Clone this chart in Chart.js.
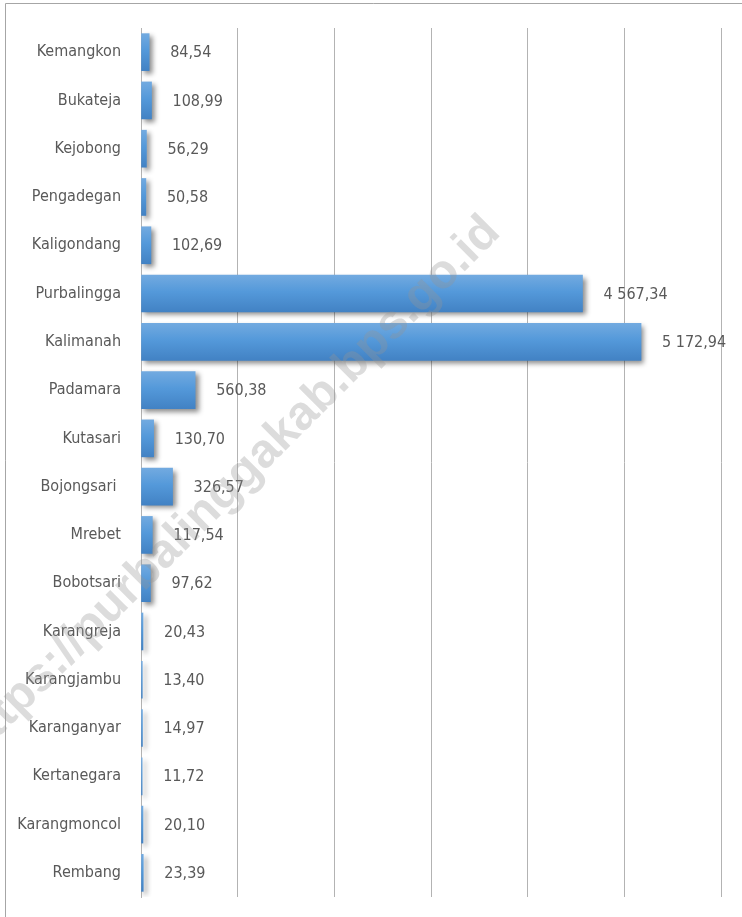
<!DOCTYPE html>
<html>
<head>
<meta charset="utf-8">
<script src="https://cdn.jsdelivr.net/npm/chart.js@4/dist/chart.umd.min.js"></script>
<style>
  html, body { margin: 0; padding: 0; background: #ffffff; }
  #wrap { position: relative; width: 742px; height: 917px; }
</style>
</head>
<body>
<div id="wrap"><canvas id="c" width="742" height="917"></canvas></div>
<script>
const categories = ["Kemangkon","Bukateja","Kejobong","Pengadegan","Kaligondang","Purbalingga","Kalimanah","Padamara","Kutasari","Bojongsari ","Mrebet","Bobotsari","Karangreja","Karangjambu","Karanganyar","Kertanegara","Karangmoncol","Rembang"];
const values = [84.54,108.99,56.29,50.58,102.69,4567.34,5172.94,560.38,130.70,326.57,117.54,97.62,20.43,13.40,14.97,11.72,20.10,23.39];
const xMin = 0, xMax = 6000, xStep = 1000;
const watermark = "https://purbalinggakab.bps.go.id";

const FONT = "'Liberation Sans Narrow', 'DejaVu Sans Condensed', 'Roboto', sans-serif";
const TEXT = "#595959";

function fmt(v) {
  const parts = v.toFixed(2).split(".");
  const intPart = parts[0].replace(/\B(?=(\d{3})+(?!\d))/g, " ");
  return intPart + "," + parts[1];
}

const framePlugin = {
  id: "frame",
  beforeDraw(chart) {
    const ctx = chart.ctx;
    ctx.save();
    ctx.fillStyle = "#ffffff";
    ctx.fillRect(0, 0, chart.width, chart.height);
    ctx.strokeStyle = "#a6a6a6";
    ctx.lineWidth = 1;
    ctx.beginPath();
    ctx.moveTo(5.5, chart.height);
    ctx.lineTo(5.5, 3.5);
    ctx.lineTo(chart.width, 3.5);
    ctx.stroke();
    ctx.restore();
  }
};

const barStylePlugin = {
  id: "barStyle",
  beforeDatasetsDraw(chart) {
    const ctx = chart.ctx;
    const meta = chart.getDatasetMeta(0);
    meta.data.forEach(el => {
      const top = el.y - el.height / 2, bot = el.y + el.height / 2;
      const g = ctx.createLinearGradient(0, top, 0, bot);
      g.addColorStop(0, "#72aae0");
      g.addColorStop(0.45, "#5499da");
      g.addColorStop(1, "#4282c4");
      el.options = Object.assign({}, el.options, { backgroundColor: g });
    });
    ctx.save();
    ctx.shadowColor = "rgba(0,0,0,0.45)";
    ctx.shadowBlur = 5;
    ctx.shadowOffsetX = 3;
    ctx.shadowOffsetY = 3;
  },
  afterDatasetsDraw(chart) {
    const ctx = chart.ctx;
    ctx.restore();
    const meta = chart.getDatasetMeta(0);
    ctx.save();
    ctx.font = "16px " + FONT;
    ctx.fillStyle = TEXT;
    ctx.textAlign = "left";
    ctx.textBaseline = "middle";
    meta.data.forEach((el, i) => {
      ctx.fillText(fmt(values[i]), el.x + 21, el.y + 1);
    });
    ctx.restore();
  }
};

const watermarkPlugin = {
  id: "wm",
  afterDraw(chart) {
    const ctx = chart.ctx;
    ctx.save();
    ctx.translate(502, 234);
    ctx.rotate(-45 * Math.PI / 180);
    ctx.font = "bold 48px 'Liberation Sans', Arial, sans-serif";
    ctx.fillStyle = "rgba(150,150,150,0.33)";
    ctx.textAlign = "right";
    ctx.textBaseline = "alphabetic";
    ctx.fillText(watermark, 0, 0);
    ctx.restore();
  }
};

new Chart(document.getElementById("c"), {
  type: "bar",
  data: {
    labels: categories,
    datasets: [{
      data: values,
      backgroundColor: "#5b9bd5",
      borderWidth: 0,
      barThickness: 37
    }]
  },
  options: {
    indexAxis: "y",
    responsive: false,
    animation: false,
    devicePixelRatio: 1,
    layout: { padding: { left: 0, right: 21, top: 28, bottom: 20 } },
    plugins: { legend: { display: false }, tooltip: { enabled: false } },
    scales: {
      x: {
        min: xMin, max: xMax,
        ticks: { display: false, stepSize: xStep },
        grid: { color: "#b3b3b3", lineWidth: 1, drawTicks: false },
        border: { display: false },
        afterFit(s) { s.height = 0; }
      },
      y: {
        ticks: { color: TEXT, font: { family: FONT, size: 16 }, padding: 20 },
        grid: { display: false, drawTicks: false },
        border: { display: true, color: "#b3b3b3", width: 1 },
        afterFit(s) { s.width = 141; s.paddingTop = 0; s.paddingBottom = 0; }
      }
    }
  },
  plugins: [framePlugin, barStylePlugin, watermarkPlugin]
});
</script>
</body>
</html>
